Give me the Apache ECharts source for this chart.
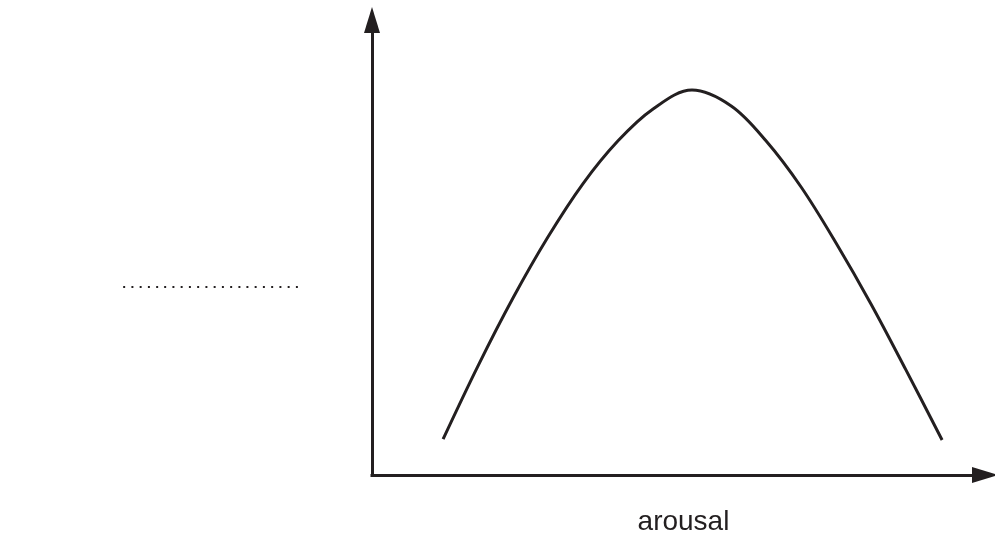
<!DOCTYPE html>
<html>
<head>
<meta charset="utf-8">
<script src="https://cdn.jsdelivr.net/npm/echarts@6/dist/echarts.min.js"></script>
<style>
  html, body { margin: 0; padding: 0; background: #ffffff; }
  #chart { width: 995px; height: 537px; }
</style>
</head>
<body>
<div id="chart"></div>
<script>
// Arousal (x, 0-100 axis units) and performance (y, 0-100 axis units)
const arousal     = [11.6, 17.3, 23.0, 28.7, 34.4, 40.1, 45.8, 52.2, 58.6, 64.3, 70.0, 75.7, 81.4, 87.1, 93.0];
const performance = [7.9, 24.0, 38.9, 52.3, 64.0, 73.4, 80.4, 84.6, 81.1, 73.4, 63.3, 51.0, 37.6, 23.1, 7.7];
const xAxisName = 'arousal';
const yAxisName = Array(22).fill('.').join(' ');  // blank to fill in

const ink = '#231f20';
const chart = echarts.init(document.getElementById('chart'), null, { renderer: 'canvas' });
chart.setOption({
  animation: false,
  backgroundColor: '#ffffff',
  grid: { left: 372, right: 10, top: 20, bottom: 62, outerBoundsMode: 'none', containLabel: false },
  xAxis: {
    type: 'value', min: 0, max: 100,
    name: xAxisName, nameLocation: 'middle', nameGap: 33,
    nameTextStyle: { fontFamily: 'Liberation Sans', fontSize: 28, color: ink, padding: [0, 0, 0, 10] },
    axisLine: { show: true, symbol: ['none', 'triangle'], symbolSize: [16, 26],
      lineStyle: { color: ink, width: 3, cap: 'square' } },
    axisTick: { show: false }, axisLabel: { show: false }, splitLine: { show: false }
  },
  yAxis: {
    type: 'value', min: 0, max: 100,
    name: yAxisName, nameLocation: 'middle', nameGap: 73, nameRotate: 0,
    nameTextStyle: { fontFamily: 'DejaVu Sans', fontSize: 11.3, fontWeight: 'bold', color: ink,
      verticalAlign: 'top', padding: [32, 0, 0, 0] },
    axisLine: { show: true, symbol: ['none', 'triangle'], symbolSize: [16, 26],
      lineStyle: { color: ink, width: 3, cap: 'square' } },
    axisTick: { show: false }, axisLabel: { show: false }, splitLine: { show: false }
  },
  series: [{
    type: 'line',
    data: arousal.map((x, i) => [x, performance[i]]),
    smooth: 0.35,
    showSymbol: false,
    lineStyle: { color: ink, width: 3, cap: 'butt' }
  }]
});
</script>
</body>
</html>
